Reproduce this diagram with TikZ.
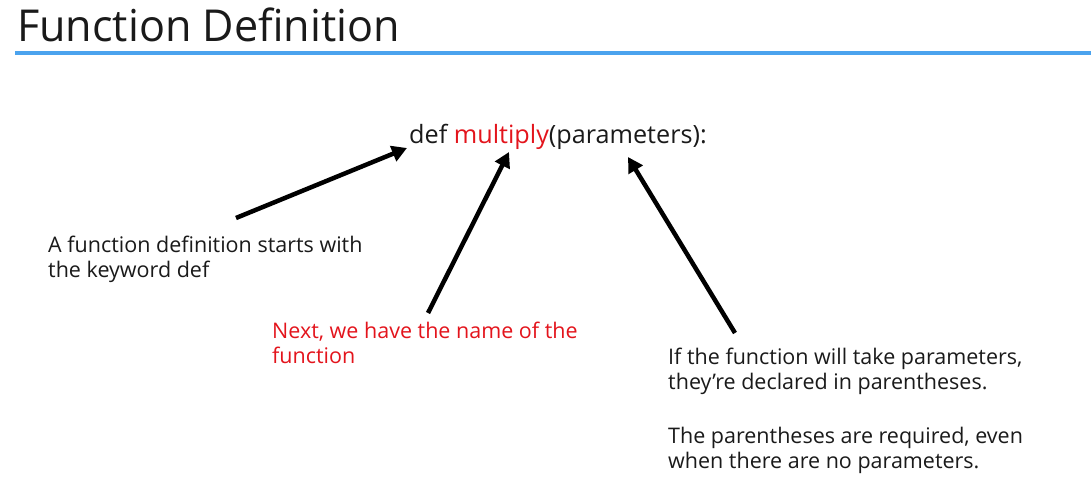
\documentclass[tikz,border=0pt]{standalone}
\usepackage{fontspec}
\setmainfont{Open Sans}
\usetikzlibrary{arrows.meta}
\definecolor{titleblue}{HTML}{4BA3EE}
\definecolor{codered}{HTML}{E3141C}
\definecolor{txt}{HTML}{1A1A1A}
\begin{document}
\begin{tikzpicture}[x=1pt,y=-1pt,
  lbl/.style={inner sep=0pt,anchor=base west,align=left,text=txt,font=\fontsize{21.5}{25}\selectfont},
  ptr/.style={line width=4.5pt,-{Triangle[length=15pt,width=16pt]}}]
\useasboundingbox (0,0) rectangle (1091,486);
\node[inner sep=0pt,anchor=base west,text=txt,font=\fontsize{44}{50}\selectfont,xscale=0.98] (title) at (17,42) {Function Definition};
\draw[titleblue,line width=3.5pt] (15,53) coordinate (ls) -- (1091,53) coordinate (le);
\node[inner sep=0pt,anchor=base west,text=txt,font=\fontsize{25.2}{30}\selectfont] (code) at (409,144) {def \textcolor{codered}{multiply}(parameters):};
\node[lbl] (t1) at (48,277) {A function definition starts with\\the keyword def};
\node[lbl,text=codered] (t2) at (272,363) {Next, we have the name of the\\function};
\node[lbl] (t3) at (668,389) {If the function will take parameters,\\they’re declared in parentheses.};
\node[lbl] (t4) at (668,468) {The parentheses are required, even\\when there are no parameters.};
\coordinate (a1s) at (236,218); \coordinate (a1e) at (407,148);
\coordinate (a2s) at (428,313); \coordinate (a2e) at (509,152);
\coordinate (a3s) at (735,333); \coordinate (a3e) at (628,157);
\draw[ptr] (a1s) -- (a1e);
\draw[ptr] (a2s) -- (a2e);
\draw[ptr] (a3s) -- (a3e);
\end{tikzpicture}
\end{document}
